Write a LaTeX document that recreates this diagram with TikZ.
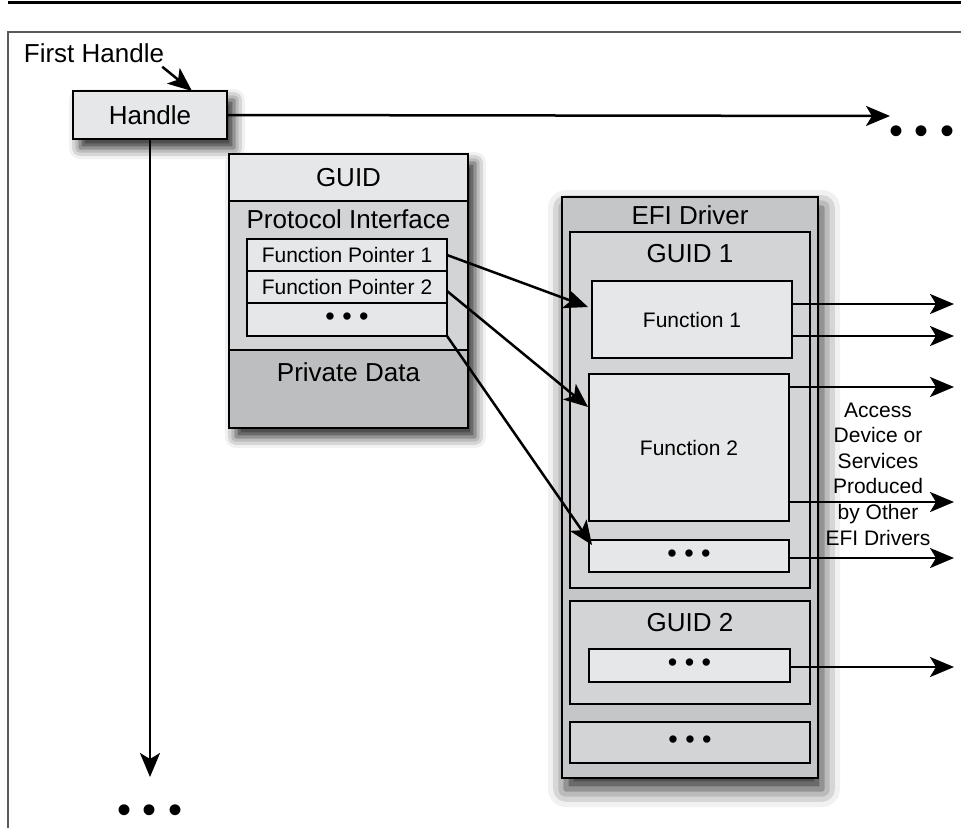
\documentclass[tikz,border=0pt]{standalone}
\usepackage{fontspec}
\setmainfont{Liberation Sans}
\usetikzlibrary{arrows.meta,shadows.blur}
\definecolor{lightfill}{HTML}{E6E7E8}
\definecolor{midfill}{HTML}{D3D4D6}
\definecolor{darkfill}{HTML}{BDBEC0}
\definecolor{efifill}{HTML}{C5C6C8}
\begin{document}
\begin{tikzpicture}[x=1pt,y=-1pt,
    box/.style={draw, line width=2.6pt, inner sep=0pt, outer sep=0pt},
    shad/.style={blur shadow={shadow xshift=7pt,shadow yshift=-9pt,shadow blur radius=11pt,shadow opacity=85}},
    big/.style={font=\fontsize{26}{30}\selectfont},
    small/.style={font=\fontsize{21}{25.6}\selectfont},
    dotstxt/.style={font=\fontsize{27}{30}\selectfont, inner sep=0pt},
    bigdots/.style={font=\fontsize{40}{44}\selectfont, inner sep=0pt},
    arr/.style={line width=2.5pt, -{Stealth[length=24pt,width=20pt,inset=6pt]}}]
  \useasboundingbox (0,0) rectangle (961,828);
  \draw[line width=3pt] (8,2) -- (961,2);
  \draw[line width=1.3pt, black!65] (8,828) -- (8,32) -- (961,32);

  \node[big, inner sep=0pt] (first) at (94,53) {First Handle};
  \node[box, shad, big, fill=lightfill, minimum width=154, minimum height=48] (handle) at (150,115) {Handle};
  \draw[arr] ([xshift=-2pt,yshift=-4pt]first.south east) -- ([xshift=42pt]handle.north);
  \coordinate (hend) at (890,116);
  \coordinate (vend) at (150,777);
  \draw[arr] (handle.east) -- (hend);
  \draw[arr] (handle.south) -- (vend);
  \node[bigdots] (hdots) at (922,135) {• • •};
  \node[bigdots] (vdots) at (150,814) {• • •};

  \node[box, shad, fill=darkfill, minimum width=239, minimum height=274] (proto) at (348.5,291) {};
  \node[box, fill=lightfill, minimum width=239, minimum height=47] (guid) at (348.5,177.5) {};
  \node[box, fill=midfill, minimum width=239, minimum height=149] (pif) at (348.5,275.5) {};
  \node[box, fill=darkfill, minimum width=239, minimum height=78] (priv) at (348.5,389) {};
  \node[big] at (348.5,177.5) {GUID};
  \node[big] (piflabel) at (348.5,219) {Protocol Interface};
  \node[big] (privlabel) at (348.5,372) {Private Data};
  \node[box, small, fill=lightfill, minimum width=200, minimum height=32] (fp1) at (347,255) {Function Pointer 1};
  \node[box, small, fill=lightfill, minimum width=200, minimum height=32] (fp2) at (347,287) {Function Pointer 2};
  \node[box, dotstxt, fill=lightfill, minimum width=200, minimum height=33] (fpd) at (347,319.5) {• • •};

  \node[box, blur shadow={shadow xshift=4pt,shadow yshift=-11pt,shadow blur radius=18pt,shadow opacity=85}, fill=efifill, minimum width=256, minimum height=581] (efi) at (690,487.5) {};
  \node[big] (efilabel) at (690,215) {EFI Driver};
  \node[box, fill=midfill, minimum width=240, minimum height=356] (guid1) at (690,410) {};
  \node[big] (g1label) at (690,254) {GUID 1};
  \node[box, small, fill=lightfill, minimum width=200, minimum height=77] (fun1) at (692,319.5) {Function 1};
  \node[box, small, fill=lightfill, minimum width=200, minimum height=147] (fun2) at (689,447.5) {Function 2};
  \node[box, dotstxt, fill=lightfill, minimum width=200, minimum height=32] (fdots) at (689,556) {• • •};
  \node[box, fill=midfill, minimum width=240, minimum height=103] (guid2) at (690,652.5) {};
  \node[big] (g2label) at (690,623) {GUID 2};
  \node[box, dotstxt, fill=lightfill, minimum width=201, minimum height=33] (g2dots) at (689.5,665.5) {• • •};
  \node[box, dotstxt, fill=midfill, minimum width=240, minimum height=41] (edots) at (690,742.5) {• • •};

  \draw[arr] (fp1.east) -- ([xshift=-4pt,yshift=12.5pt]fun1.west);
  \draw[arr] ([yshift=-4pt]fp2.east) -- ([xshift=-1pt,yshift=-33pt]fun2.north west);
  \draw[arr] (fpd.south east) -- ([xshift=3pt,yshift=-5pt]fdots.north west);

  \draw[arr] ([yshift=15.5pt]fun1.east) -- ++(162,0);
  \draw[arr] ([yshift=-16.5pt]fun1.east) -- ++(162,0);
  \draw[arr] ([yshift=60.5pt]fun2.east) -- ++(165,0);
  \draw[arr] ([yshift=-54.5pt]fun2.east) -- ++(165,0);
  \draw[arr] ([yshift=-2pt]fdots.east) -- ++(165,0);
  \draw[arr] ([yshift=-1.5pt]g2dots.east) -- ++(164,0);
  \node[small, align=center, inner sep=0pt] (access) at (878,474) {Access\\Device or\\Services\\Produced\\by Other\\EFI Drivers};
\end{tikzpicture}
\end{document}
